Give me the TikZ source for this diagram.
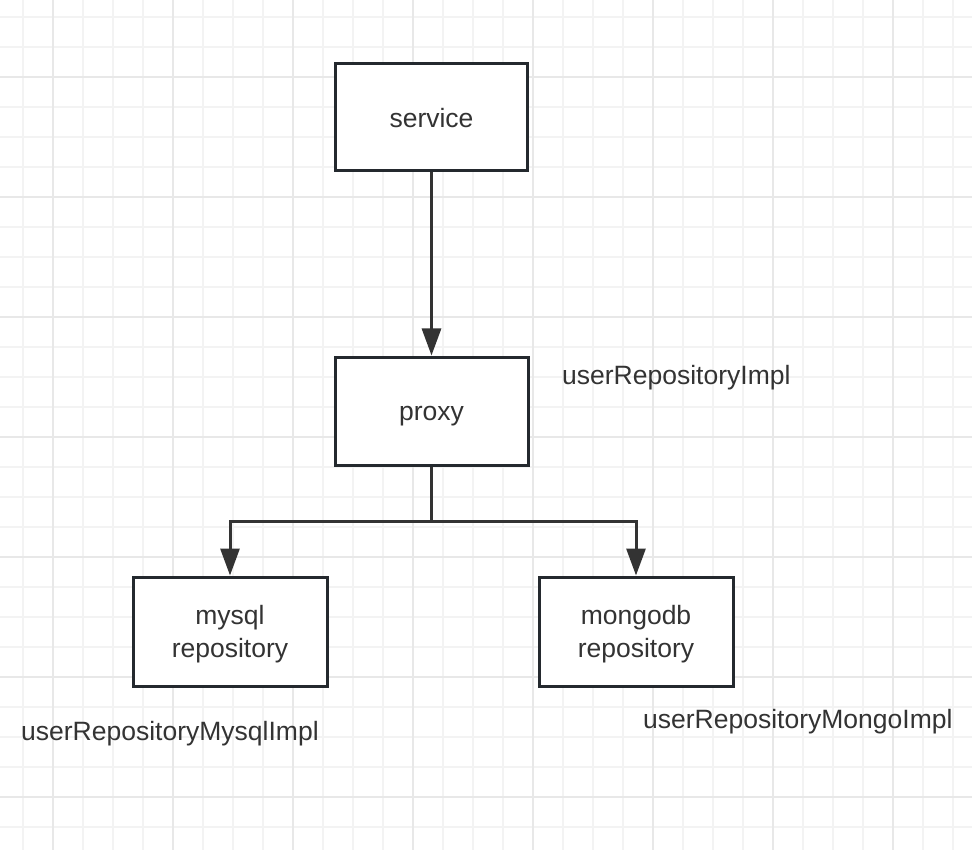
\documentclass[tikz,border=0pt]{standalone}
\usepackage{fontspec}
\setmainfont{Liberation Sans}
\usetikzlibrary{arrows.meta}
\definecolor{gridminor}{RGB}{243,243,243}
\definecolor{gridmajor}{RGB}{232,232,232}
\definecolor{boxline}{RGB}{36,41,46}
\definecolor{txt}{RGB}{51,51,51}
\definecolor{conn}{RGB}{51,51,51}
\newcommand\lowered[2]{\raisebox{-#1}[\height][\depth]{#2}}
\newcommand\twolines[2]{\begin{tabular}{@{}c@{}}#1\\#2\end{tabular}}
\tikzset{
  box/.style={draw=boxline, line width=3pt, fill=white, inner sep=0pt,
    text=txt, align=center, font=\fontsize{26.5}{33}\selectfont},
  lbl/.style={anchor=base west, inner sep=0pt, text=txt,
    font=\fontsize{26.5}{33}\selectfont},
  link/.style={draw=conn, line width=3pt,
    -{Triangle[length=27pt,width=19pt]}},
  plainlink/.style={draw=conn, line width=3pt},
}
\begin{document}
\begin{tikzpicture}[x=1pt,y=-1pt]
\useasboundingbox (0,0) rectangle (972,850);
\fill[white] (0,0) rectangle (972,850);
% grid
\foreach \k in {0,...,32}{
  \draw[gridminor, line width=1.5pt] ({23+30*\k},0) -- ({23+30*\k},850);
}
\foreach \k in {0,...,28}{
  \draw[gridminor, line width=1.5pt] (0,{17+30*\k}) -- (972,{17+30*\k});
}
\foreach \k in {0,...,7}{
  \draw[gridmajor, line width=1.5pt] ({53+120*\k},0) -- ({53+120*\k},850);
}
\foreach \k in {0,...,6}{
  \draw[gridmajor, line width=1.5pt] (0,{77+120*\k}) -- (972,{77+120*\k});
}
% boxes
\node[box, minimum width=192pt, minimum height=107pt] (service) at (431.5,117.5) {\lowered{1pt}{service}};
\node[box, minimum width=193pt, minimum height=108pt] (proxy) at (431.5,411) {\lowered{5pt}{proxy}};
\node[box, minimum width=194pt, minimum height=109pt] (mysql) at (230,631.5) {\lowered{3pt}{\twolines{mysql}{repository}}};
\node[box, minimum width=194pt, minimum height=109pt] (mongo) at (636,631.5) {\lowered{3pt}{\twolines{mongodb}{repository}}};
% labels
\node[lbl] (limpl) at (562,384) {userRepositoryImpl};
\node[lbl] (lmysql) at (21,740) {userRepositoryMysqlImpl};
\node[lbl] (lmongo) at (643,728) {userRepositoryMongoImpl};
% connectors
\coordinate (jn) at (431.5,521);
\draw[link] (service) -- (proxy);
\draw[plainlink] (proxy.south) -- (jn);
\draw[link] (jn) -| (mysql.north);
\draw[link] (jn) -| (mongo.north);
\end{tikzpicture}
\end{document}
